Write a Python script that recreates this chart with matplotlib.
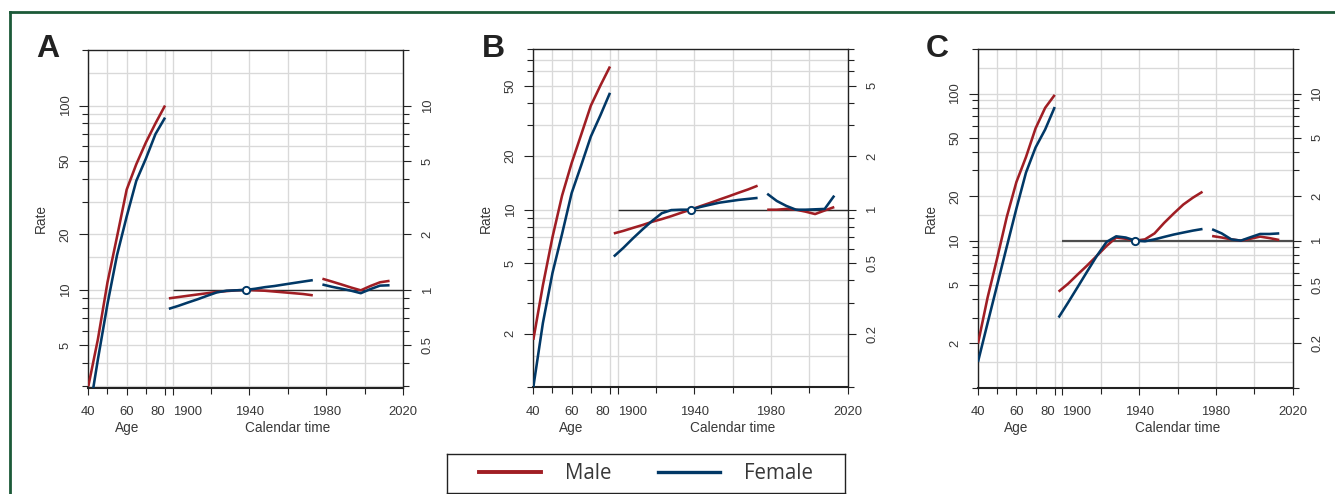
"""APC plots (age, cohort, period) for three panels, male vs female."""

import matplotlib
matplotlib.use("Agg")
import matplotlib.pyplot as plt
from matplotlib.lines import Line2D
from matplotlib.transforms import blended_transform_factory

plt.rcParams['font.family'] = ['Liberation Sans', 'DejaVu Sans']

# ---- data ----
ages = [40, 45, 50, 55, 60, 65, 70, 75, 80]
cohorts = [1898, 1903, 1908, 1913, 1918, 1923, 1928, 1933,
           1938, 1943, 1948, 1953, 1958, 1963, 1968, 1973]
periods = [1978, 1983, 1988, 1993, 1998, 2003, 2008, 2013]
ref_cohort = 1938
ref_rate = 10

A_male_age = [3.0, 5.4, 11.0, 19.5, 35.0, 48.0, 63.0, 80.0, 100.0]
A_female_age = [2.0, 4.2, 8.4, 15.5, 25.0, 39.0, 51.5, 70.0, 86.0]
A_male_coh = [0.90, 0.915, 0.93, 0.945, 0.96, 0.975, 0.985, 0.995,
              1.0, 0.995, 0.99, 0.98, 0.97, 0.96, 0.95, 0.935]
A_female_coh = [0.79, 0.82, 0.855, 0.89, 0.93, 0.97, 0.99, 0.995,
                1.0, 1.015, 1.035, 1.05, 1.07, 1.09, 1.11, 1.13]
A_male_per = [1.15, 1.11, 1.07, 1.03, 0.995, 1.05, 1.10, 1.12]
A_female_per = [1.07, 1.04, 1.015, 0.99, 0.96, 1.01, 1.055, 1.06]

B_male_age = [1.85, 3.75, 7.0, 12.0, 18.3, 26.5, 38.5, 50.0, 64.0]
B_female_age = [1.0, 2.3, 4.4, 7.3, 12.4, 17.8, 25.8, 34.0, 45.5]
B_male_coh = [0.735, 0.76, 0.79, 0.82, 0.855, 0.885, 0.92, 0.96,
              1.0, 1.045, 1.09, 1.14, 1.19, 1.245, 1.30, 1.365]
B_female_coh = [0.545, 0.61, 0.69, 0.775, 0.865, 0.955, 0.995, 1.0,
                1.0, 1.035, 1.065, 1.095, 1.115, 1.135, 1.15, 1.165]
B_male_per = [1.0, 1.0, 1.01, 1.0, 0.975, 0.945, 0.99, 1.035]
B_female_per = [1.23, 1.12, 1.05, 1.0, 1.0, 1.005, 1.01, 1.2]

C_male_age = [2.0, 4.1, 7.6, 14.5, 25.0, 37.0, 58.0, 80.0, 98.0]
C_female_age = [1.5, 2.75, 5.0, 9.1, 16.5, 29.0, 43.0, 57.0, 81.0]
C_male_coh = [0.45, 0.51, 0.59, 0.68, 0.79, 0.92, 1.05, 1.03,
              1.0, 1.02, 1.12, 1.32, 1.53, 1.76, 1.96, 2.15]
C_female_coh = [0.30, 0.38, 0.485, 0.62, 0.79, 0.98, 1.07, 1.05,
                1.0, 0.99, 1.02, 1.06, 1.10, 1.135, 1.17, 1.20]
C_male_per = [1.075, 1.05, 1.02, 1.0, 1.03, 1.065, 1.04, 1.01]
C_female_per = [1.195, 1.12, 1.02, 1.0, 1.055, 1.11, 1.11, 1.12]

rate_labels = {'A': [5, 10, 20, 50, 100], 'B': [2, 5, 10, 20, 50],
               'C': [2, 5, 10, 20, 50, 100]}
rr_labels = {'A': [0.5, 1, 2, 5, 10], 'B': [0.2, 0.5, 1, 2, 5],
             'C': [0.2, 0.5, 1, 2, 5, 10]}
ylims = {'A': (2.95, 200), 'B': (1.0, 80), 'C': (1.0, 200)}

age_ticks = [40, 50, 60, 70, 80]
cal_ticks = [1900, 1920, 1940, 1960, 1980, 2000, 2020]
age_lab = [40, 60, 80]
cal_lab = [1900, 1940, 1980, 2020]

panels = {
    'A': (A_male_age, A_female_age, A_male_coh, A_female_coh, A_male_per, A_female_per),
    'B': (B_male_age, B_female_age, B_male_coh, B_female_coh, B_male_per, B_female_per),
    'C': (C_male_age, C_female_age, C_male_coh, C_female_coh, C_male_per, C_female_per),
}

# ---- style ----
RED = '#a01e24'
BLUE = '#013866'
GRID = '#d9d9d9'
TXT = '#383838'
AX = '#222222'
LW = 1.85
FS_TICK = 9.4
FS_LAB = 9.8

GAP = 4  # frame gap between age and calendar part


def cal(years):
    # calendar time placed after the age part of the frame
    return [y - cal_ticks[0] + age_ticks[-1] + GAP for y in years]


W, H = 1335, 494
fig = plt.figure(figsize=(W / 100, H / 100), dpi=100)
boxes = {'A': (88.3, 50.0, 403.0, 387.7),
         'B': (533.3, 49.3, 847.7, 387.3),
         'C': (978.0, 49.3, 1292.7, 387.7)}
letter_x = {'A': 36, 'B': 481.5, 'C': 925.5}

grid_mult = [1, 1.5, 2, 3, 4, 5, 6, 7, 8, 9]
tick_mult = [1, 2, 3, 4, 5, 6, 7, 8, 9]

for key, (m_age, f_age, m_coh, f_coh, m_per, f_per) in panels.items():
    l, t, r, b = boxes[key]
    ax = fig.add_axes([l / W, 1 - b / H, (r - l) / W, (b - t) / H])
    lo, hi = ylims[key]
    xmin, xmax = age_ticks[0], cal([cal_ticks[-1]])[0]
    ax.set_xlim(xmin, xmax)
    ax.set_yscale('log')
    ax.set_ylim(lo, hi)
    ax2 = ax.twinx()
    ax2.set_yscale('log')
    ax2.set_ylim(lo / ref_rate, hi / ref_rate)

    # grid
    xt = age_ticks + cal(cal_ticks)
    for v in xt:
        ax.axvline(v, color=GRID, lw=0.95, zorder=0)
    gvals = [m * 10 ** k for k in range(-1, 4) for m in grid_mult]
    for g in gvals:
        if lo < g < hi:
            ax.axhline(g, color=GRID, lw=0.95, zorder=0)

    # x ticks
    ax.set_xticks(age_lab + cal(cal_lab), [str(v) for v in age_lab + cal_lab])
    ax.set_xticks([a for a in age_ticks if a not in age_lab]
                  + cal([c for c in cal_ticks if c not in cal_lab]), minor=True)
    ax.tick_params(axis='x', which='major', length=5, width=0.8, color=AX,
                   labelsize=FS_TICK, labelcolor=TXT, pad=8.5)
    ax.tick_params(axis='x', which='minor', length=4.6, width=0.8, color=AX)
    xlabs = ax.get_xticklabels()
    xlabs[len(age_lab) - 1].set_horizontalalignment('right')
    xlabs[len(age_lab)].set_horizontalalignment('left')

    # left rate axis
    tv = [m * 10 ** k for k in range(-1, 4) for m in tick_mult]
    ax.set_yticks(rate_labels[key], [f"{v:g}" for v in rate_labels[key]],
                  rotation=90, va='center')
    ax.set_yticks([v for v in tv if lo <= v <= hi and v not in rate_labels[key]],
                  minor=True)
    ax.yaxis.set_minor_formatter(plt.NullFormatter())
    ax.tick_params(axis='y', which='major', length=6.5, width=0.8, color=AX,
                   labelsize=FS_TICK, labelcolor=TXT, pad=5.5)
    ax.tick_params(axis='y', which='minor', length=4.4, width=0.8, color=AX)

    # right rate-ratio axis
    rlo, rhi = lo / ref_rate, hi / ref_rate
    ax2.set_yticks(rr_labels[key], [f"{v:g}" for v in rr_labels[key]],
                   rotation=90, va='center')
    ax2.set_yticks([v / ref_rate for v in tv
                    if rlo <= v / ref_rate <= rhi and v / ref_rate not in rr_labels[key]],
                   minor=True)
    ax2.yaxis.set_minor_formatter(plt.NullFormatter())
    ax2.tick_params(axis='y', which='major', length=6, width=0.8, color=AX,
                    labelsize=FS_TICK, labelcolor=TXT, pad=7.5)
    ax2.tick_params(axis='y', which='minor', length=4.4, width=0.8, color=AX)

    for s in ax2.spines.values():
        s.set_visible(False)
    for name, s in ax.spines.items():
        s.set_color(AX)
        s.set_linewidth(1.5 if name == 'bottom' else 1.0)

    # reference line
    ax2.hlines(1, cal([cal_ticks[0]])[0], xmax, color='#2b2b2b' if key != 'C' else '#4d4d4d',
               lw=1.0 if key != 'C' else 1.6, zorder=2)

    # age effects
    ax.plot(ages, m_age, color=RED, lw=LW, zorder=3, solid_capstyle='butt')
    ax.plot(ages, f_age, color=BLUE, lw=LW, zorder=3, solid_capstyle='butt')
    # cohort and period effects
    ax2.plot(cal(cohorts), m_coh, color=RED, lw=LW, zorder=3, solid_capstyle='butt')
    ax2.plot(cal(cohorts), f_coh, color=BLUE, lw=LW, zorder=3, solid_capstyle='butt')
    ax2.plot(cal(periods), m_per, color=RED, lw=LW, zorder=3, solid_capstyle='butt')
    ax2.plot(cal(periods), f_per, color=BLUE, lw=LW, zorder=3, solid_capstyle='butt')
    ax2.plot(cal([ref_cohort]), [1], 'o', ms=5.2, mfc='white', mec=BLUE, mew=1.4, zorder=5)

    # labels
    tr = blended_transform_factory(ax.transData, ax.transAxes)
    ax.text(60, -0.12, 'Age', transform=tr, ha='center', va='center',
            fontsize=FS_LAB, color=TXT)
    ax.text(cal([1960])[0], -0.12, 'Calendar time', transform=tr, ha='center',
            va='center', fontsize=FS_LAB, color=TXT)
    ax.text(-0.151, 0.5, 'Rate', transform=ax.transAxes, rotation=90,
            ha='center', va='center', fontsize=FS_LAB, color=TXT)
    fig.text(letter_x[key] / W, 1 - 57 / H, key, fontsize=23, weight='bold',
             ha='left', va='baseline', color='#222222')

# legend
lax = fig.add_axes([447 / W, 1 - 493 / H, 398 / W, 39 / H])
lax.set_xticks([])
lax.set_yticks([])
for s in lax.spines.values():
    s.set_color(AX)
    s.set_linewidth(1.0)
handles = [Line2D([], [], color=RED, lw=2.8), Line2D([], [], color=BLUE, lw=2.4)]
lax.legend(handles, ['Male', 'Female'], loc='center', ncol=2, frameon=False,
           prop={'family': 'Open Sans', 'size': 14.8}, labelcolor=TXT,
           handlelength=3.0, handletextpad=1.15, columnspacing=2.3)

# green outer border
green = '#1c5a38'
fig.add_artist(Line2D([10 / W, 1], [1 - 12.5 / H] * 2, transform=fig.transFigure,
                      color=green, lw=2.0))
fig.add_artist(Line2D([10 / W] * 2, [0, 1 - 12.5 / H], transform=fig.transFigure,
                      color=green, lw=2.0))

fig.savefig('out.png', dpi=100)
